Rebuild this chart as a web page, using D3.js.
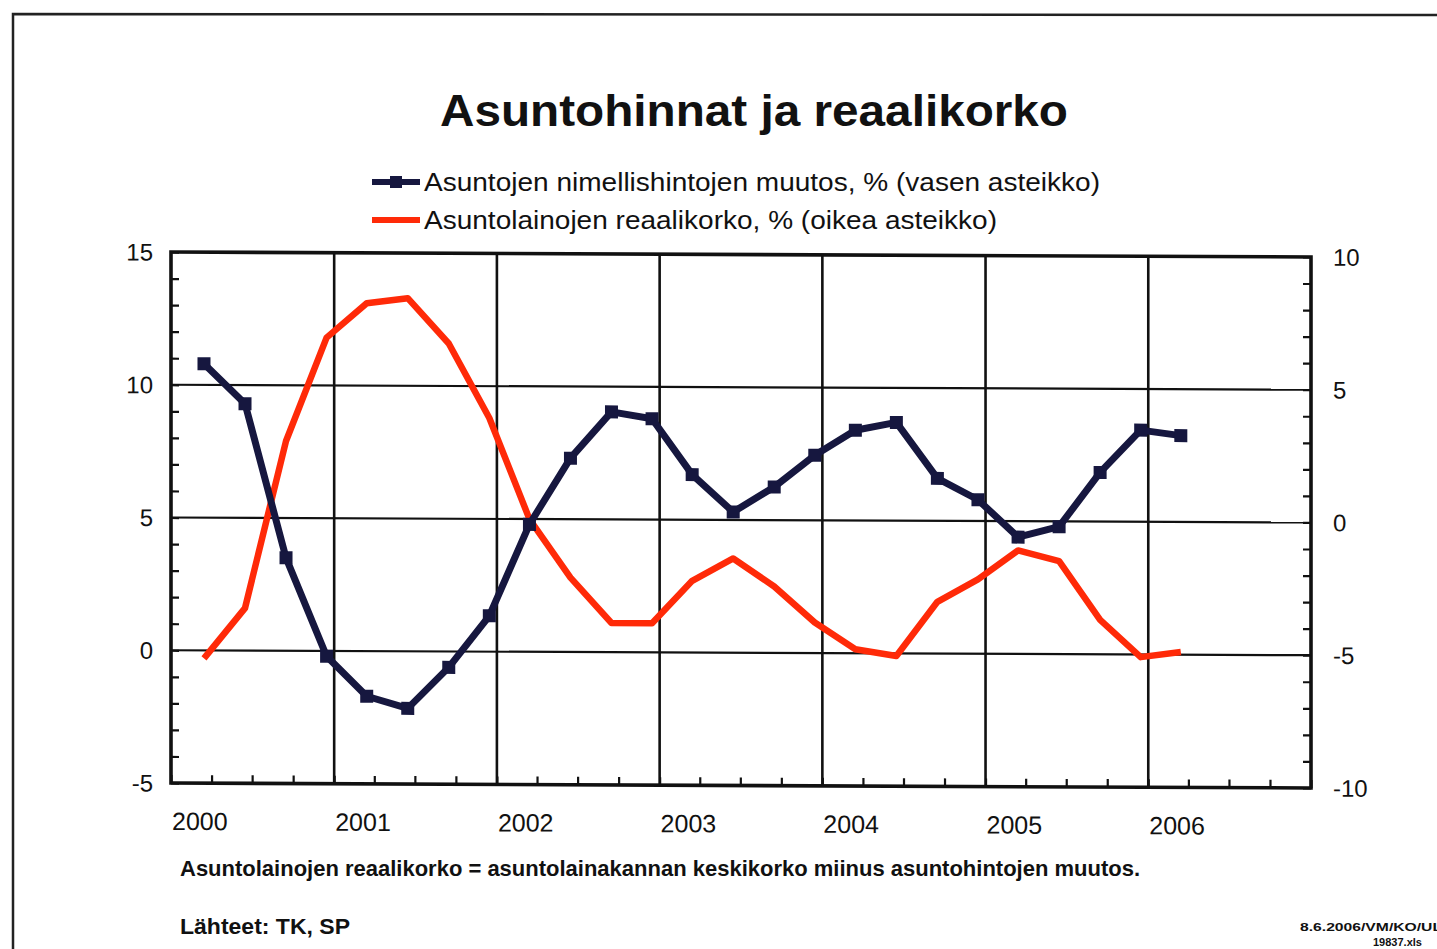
<!DOCTYPE html>
<html><head><meta charset="utf-8">
<script src="https://cdn.jsdelivr.net/npm/d3@7"></script>
<style>
body{margin:0;background:#fff}
svg{display:block;background:#fff}
text{font-family:"Liberation Sans",Arial,sans-serif;fill:#111}
</style>
</head><body>
<svg id="chart" width="1437" height="949"></svg>
<script>
// ---- data ----
const periods = ["2000-03","2000-06","2000-09","2000-12","2001-03","2001-06","2001-09","2001-12",
  "2002-03","2002-06","2002-09","2002-12","2003-03","2003-06","2003-09","2003-12",
  "2004-03","2004-06","2004-09","2004-12","2005-03","2005-06","2005-09","2005-12","2006-03"];
const priceChange = [10.8, 9.3, 3.5, -0.2, -1.7, -2.15, -0.6, 1.35, 4.8, 7.3, 9.05, 8.8,
  6.7, 5.3, 6.25, 7.45, 8.4, 8.7, 6.6, 5.8, 4.4, 4.8, 6.85, 8.45, 8.25];
const realRate = [-5.3, -3.4, 2.9, 6.8, 8.1, 8.3, 6.6, 3.8, 0.0, -2.2, -3.9, -3.9,
  -2.3, -1.45, -2.5, -3.85, -4.85, -5.1, -3.05, -2.2, -1.1, -1.5, -3.7, -5.1, -4.9];
const yearLabels = ["2000","2001","2002","2003","2004","2005","2006"];
const leftTicks = [15, 10, 5, 0, -5];
const rightTicks = [10, 5, 0, -5, -10];
const seriesNames = ["Asuntojen nimellishintojen muutos, % (vasen asteikko)",
  "Asuntolainojen reaalikorko, % (oikea asteikko)"];
const titleText = "Asuntohinnat ja reaalikorko";
const noteText = "Asuntolainojen reaalikorko = asuntolainakannan keskikorko miinus asuntohintojen muutos.";
const sourceText = "Lähteet: TK, SP";
const stampLines = ["8.6.2006/VM/KO/UL", "19837.xls"];

// ---- styles ----
const NAVY = "#16173f", RED = "#ff2a08";
const L = 171, R = 1311, T = 252, B = 783;

const svg = d3.select("#chart");
const parse = d3.timeParse("%Y-%m-%d");
const dates = periods.map(p => parse(p + "-15"));

// outer border (scanned page frame)
svg.append("path").attr("d", "M13,949 L13,14 L1437,15")
  .attr("fill", "none").attr("stroke", "#222").attr("stroke-width", 2.5);

// title
svg.append("text").attr("x", 754).attr("y", 126).attr("text-anchor", "middle")
  .attr("font-size", 44).attr("font-weight", "bold").attr("textLength", 628)
  .attr("lengthAdjust", "spacingAndGlyphs").text(titleText);

// legend
const leg = svg.append("g");
const legY = [182, 220];
const legW = [676, 573];
leg.append("line").attr("x1", 372).attr("x2", 420).attr("y1", legY[0]).attr("y2", legY[0])
  .attr("stroke", NAVY).attr("stroke-width", 6);
leg.append("rect").attr("x", 390).attr("y", legY[0] - 6).attr("width", 12).attr("height", 12).attr("fill", NAVY);
leg.append("line").attr("x1", 372).attr("x2", 420).attr("y1", legY[1]).attr("y2", legY[1])
  .attr("stroke", RED).attr("stroke-width", 6);
seriesNames.forEach((s, i) => {
  leg.append("text").attr("x", 424).attr("y", legY[i] + 9).attr("font-size", 25)
    .attr("textLength", legW[i]).attr("lengthAdjust", "spacingAndGlyphs").text(s);
});

// plot group with the slight shear of the scan
const g = svg.append("g").attr("transform", `translate(0,${-L * Math.tan(0.25 * Math.PI / 180)}) skewY(0.25)`);

const x = d3.scaleTime().domain([new Date(2000, 0, 1), new Date(2007, 0, 1)]).range([L, R]);
const yL = d3.scaleLinear().domain([-5, 15]).range([B, T]);
const yR = d3.scaleLinear().domain([-10, 10]).range([B, T]);

// horizontal gridlines
g.selectAll(".hg").data(leftTicks.filter(v => v > -5 && v < 15)).enter().append("line")
  .attr("x1", L).attr("x2", R).attr("y1", d => yL(d)).attr("y2", d => yL(d))
  .attr("stroke", "#111").attr("stroke-width", 2.2);
// vertical year gridlines
const yearDates = yearLabels.map(y => new Date(+y, 0, 1));
g.selectAll(".vg").data(yearDates.slice(1)).enter().append("line")
  .attr("x1", d => x(d)).attr("x2", d => x(d)).attr("y1", T).attr("y2", B)
  .attr("stroke", "#111").attr("stroke-width", 2.6);

// axes with inward minor ticks
const axL = g.append("g").attr("transform", `translate(${L},0)`)
  .call(d3.axisRight(yL).tickValues(d3.range(-5, 16, 1)).tickSize(8).tickFormat(""));
const axR = g.append("g").attr("transform", `translate(${R},0)`)
  .call(d3.axisLeft(yR).tickValues(d3.range(-10, 11, 1)).tickSize(8).tickFormat(""));
const axB = g.append("g").attr("transform", `translate(0,${B})`)
  .call(d3.axisTop(x).ticks(d3.timeMonth.every(3)).tickSize(8).tickFormat(""));
[axL, axR, axB].forEach(a => {
  a.select(".domain").remove();
  a.selectAll(".tick line").attr("stroke", "#111").attr("stroke-width", 2.2);
});

// frame
g.append("rect").attr("x", L).attr("y", T).attr("width", R - L).attr("height", B - T)
  .attr("fill", "none").attr("stroke", "#111").attr("stroke-width", 3.6);

// tick labels
g.selectAll(".ll").data(leftTicks).enter().append("text")
  .attr("x", 153).attr("y", d => yL(d)).attr("dy", "0.36em").attr("text-anchor", "end")
  .attr("font-size", 24).text(d => d);
g.selectAll(".rl").data(rightTicks).enter().append("text")
  .attr("x", 1333).attr("y", d => yR(d)).attr("dy", "0.36em").attr("text-anchor", "start")
  .attr("font-size", 24).text(d => d);
g.selectAll(".xl").data(yearLabels).enter().append("text")
  .attr("x", (d, i) => x(yearDates[i]) + 1).attr("y", 830).attr("font-size", 25)
  .text(d => d);

// series lines
const lineL = d3.line().x((d, i) => x(dates[i])).y(d => yL(d));
const lineR = d3.line().x((d, i) => x(dates[i])).y(d => yR(d));
g.append("path").datum(realRate).attr("d", lineR).attr("fill", "none")
  .attr("stroke", RED).attr("stroke-width", 6.5).attr("stroke-linejoin", "round");
g.append("path").datum(priceChange).attr("d", lineL).attr("fill", "none")
  .attr("stroke", NAVY).attr("stroke-width", 7).attr("stroke-linejoin", "round");
g.selectAll(".mk").data(priceChange).enter().append("rect")
  .attr("x", (d, i) => x(dates[i]) - 6.5).attr("y", d => yL(d) - 6.5)
  .attr("width", 13).attr("height", 13).attr("fill", NAVY);

// footnotes
svg.append("text").attr("x", 180).attr("y", 876).attr("font-size", 22).attr("font-weight", "bold")
  .attr("textLength", 960).attr("lengthAdjust", "spacingAndGlyphs").text(noteText);
svg.append("text").attr("x", 180).attr("y", 934).attr("font-size", 22).attr("font-weight", "bold")
  .attr("textLength", 170).attr("lengthAdjust", "spacingAndGlyphs").text(sourceText);
svg.append("text").attr("x", 1300).attr("y", 931).attr("font-size", 11).attr("font-weight", "bold")
  .attr("textLength", 142).attr("lengthAdjust", "spacingAndGlyphs").text(stampLines[0]);
svg.append("text").attr("x", 1373).attr("y", 946).attr("font-size", 11).attr("font-weight", "bold")
  .text(stampLines[1]);
</script>
</body></html>
